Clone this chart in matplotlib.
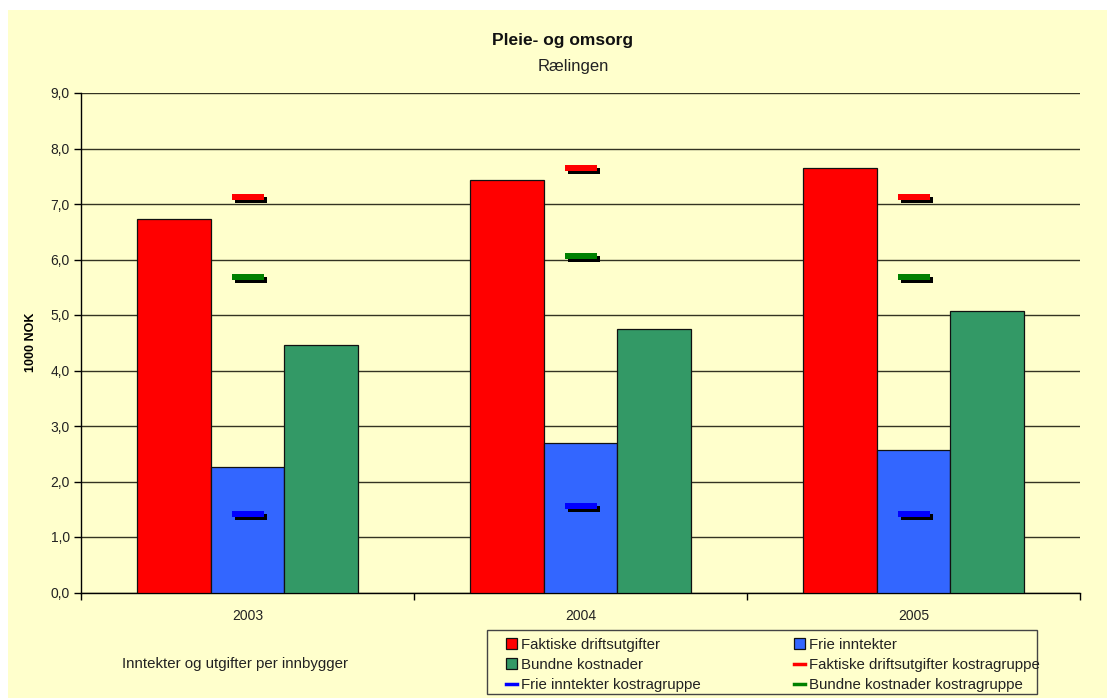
import matplotlib
matplotlib.use("Agg")
import matplotlib.pyplot as plt
import numpy as np
from matplotlib.patches import Rectangle, Patch
from matplotlib.lines import Line2D
from matplotlib.path import Path
from matplotlib.transforms import offset_copy
from matplotlib.ticker import FuncFormatter, FixedLocator

plt.rcParams['font.family'] = ['Liberation Sans', 'DejaVu Sans']

years = ["2003", "2004", "2005"]
faktiske = [6.73, 7.44, 7.64]
frie = [2.27, 2.69, 2.56]
bundne = [4.46, 4.75, 5.07]
faktiske_kostra = [7.12, 7.64, 7.12]
frie_kostra = [1.42, 1.56, 1.41]
bundne_kostra = [5.69, 6.06, 5.69]

bar_series = [
    ("Faktiske driftsutgifter", faktiske, "#FF0000"),
    ("Frie inntekter", frie, "#3366FF"),
    ("Bundne kostnader", bundne, "#339966"),
]
marker_series = [
    ("Faktiske driftsutgifter kostragruppe", faktiske_kostra, "#FF0000"),
    ("Frie inntekter kostragruppe", frie_kostra, "#0000FF"),
    ("Bundne kostnader kostragruppe", bundne_kostra, "#008000"),
]

bg = "#FFFFCC"
W, H = 1107, 698
fig = plt.figure(figsize=(W / 100, H / 100), dpi=100, facecolor="white")
fig.patches.append(Rectangle((8 / W, 0), 1 - 8 / W, 1 - 10 / H, transform=fig.transFigure,
                             facecolor=bg, edgecolor="none", zorder=-10))
# legend frame
fig.patches.append(Rectangle((487 / W, 1 - 694 / H), (1037 - 487) / W, (694 - 630) / H,
                             transform=fig.transFigure, facecolor=bg, edgecolor="#444444",
                             linewidth=1.0, zorder=1))

ax = fig.add_axes([81 / W, 1 - 592.5 / H, (1080 - 81) / W, (592.5 - 93) / H])
ax.set_facecolor(bg)

x = np.arange(len(years))
bw = 0.222
handles = {}
for i, (name, vals, col) in enumerate(bar_series):
    ax.bar(x + (i - 1) * bw, vals, width=bw, color=col, edgecolor="#111111",
           linewidth=0.9, zorder=3)
    handles[name] = Patch(facecolor=col, edgecolor="#111111", linewidth=0.9)

rect = Path([(-1, -0.21), (1, -0.21), (1, 0.21), (-1, 0.21), (-1, -0.21)],
            [Path.MOVETO, Path.LINETO, Path.LINETO, Path.LINETO, Path.CLOSEPOLY])
shadow_tr = offset_copy(ax.transData, fig=fig, x=3, y=-3, units="dots")
for name, vals, col in marker_series:
    ax.plot(x, vals, linestyle="none", marker=rect, markersize=23,
            markerfacecolor="black", markeredgewidth=0, transform=shadow_tr, zorder=4)
    ax.plot(x, vals, linestyle="none", marker=rect, markersize=23,
            markerfacecolor=col, markeredgewidth=0, zorder=5)
    handles[name] = Line2D([0], [0], color=col, linewidth=2.5)

ax.set_xlim(-0.5, 2.5)
ax.set_ylim(0, 9)
ax.set_yticks(np.arange(0, 9.01, 1.0))
ax.yaxis.set_major_formatter(FuncFormatter(lambda v, p: f"{v:.1f}".replace(".", ",")))
ax.yaxis.grid(True, color="#333322", linewidth=1.0, zorder=0)
ax.set_axisbelow(True)
ax.set_xticks(x)
ax.set_xticklabels(years)
ax.xaxis.set_minor_locator(FixedLocator([-0.5, 0.5, 1.5, 2.5]))
ax.tick_params(axis="x", which="major", length=0, pad=12, labelsize=10, colors="#222222")
ax.tick_params(axis="x", which="minor", length=5, direction="out", width=1)
ax.tick_params(axis="y", length=5, direction="out", width=1, labelsize=10, colors="#222222",
               pad=3)
ax.tick_params(axis="both", which="both", color="black")
for s in ["top", "right"]:
    ax.spines[s].set_visible(False)
for s in ["left", "bottom"]:
    ax.spines[s].set_color("black")
    ax.spines[s].set_linewidth(1.0)

ax.set_ylabel("1000 NOK", fontsize=9, fontweight="bold")
ax.yaxis.set_label_coords(-0.044, 0.5)

fig.text(563 / W, 1 - 41 / H, "Pleie- og omsorg", ha="center", va="center",
         fontsize=12.5, fontweight="bold", color="#111111")
fig.text(573 / W, 1 - 67 / H, "Rælingen", ha="center", va="center", fontsize=12,
         color="#222222")
fig.text(122 / W, 1 - 664 / H, "Inntekter og utgifter per innbygger", ha="left",
         va="center", fontsize=10.8, color="#222222")

order = ["Faktiske driftsutgifter", "Bundne kostnader", "Frie inntekter kostragruppe",
         "Frie inntekter", "Faktiske driftsutgifter kostragruppe", "Bundne kostnader kostragruppe"]
leg = fig.legend([handles[n] for n in order], order, ncol=2, loc="center left",
                 bbox_to_anchor=(506 / W, 1 - 697 / H, (1040 - 506) / W, 64 / H),
                 mode="expand", fontsize=10.8, frameon=False,
                 handlelength=0.75, handleheight=0.75, handletextpad=0.25,
                 borderpad=0.0, labelspacing=0.42, columnspacing=1.0, borderaxespad=0)
for t in leg.get_texts():
    t.set_color("#222222")

fig.savefig("out.png", dpi=100, facecolor="white")
